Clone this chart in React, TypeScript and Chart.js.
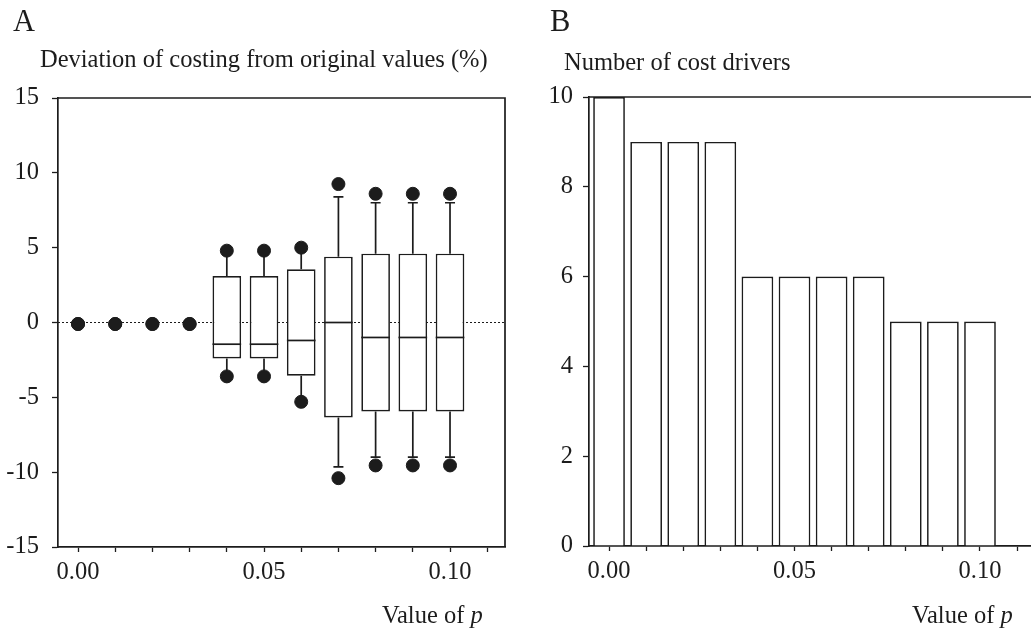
import React, { useEffect, useRef } from 'react';
import { Chart, registerables } from 'chart.js';

Chart.register(...registerables);

// ---------- data ----------
const P_VALUES = [0, 0.01, 0.02, 0.03, 0.04, 0.05, 0.06, 0.07, 0.08, 0.09, 0.1];
const BOX_Q1 = [null, null, null, null, -2.4, -2.4, -3.55, -6.35, -5.95, -5.95, -5.95];
const BOX_MEDIAN = [null, null, null, null, -1.45, -1.45, -1.2, 0, -1.0, -1.0, -1.0];
const BOX_Q3 = [null, null, null, null, 3.1, 3.1, 3.55, 4.4, 4.6, 4.6, 4.6];
const WHISKER_LOW = [null, null, null, null, -3.6, -3.6, -5.3, -9.65, -9.0, -9.0, -9.0];
const WHISKER_HIGH = [null, null, null, null, 4.8, 4.8, 5.0, 8.4, 8.0, 8.0, 8.0];
const POINT_LOW = [-0.1, -0.1, -0.1, -0.1, -3.6, -3.6, -5.3, -10.4, -9.55, -9.55, -9.55];
const POINT_HIGH = [-0.1, -0.1, -0.1, -0.1, 4.8, 4.8, 5.0, 9.25, 8.6, 8.6, 8.6];
const COST_DRIVERS = [10, 9, 9, 9, 6, 6, 6, 6, 5, 5, 5];

const X_TICKS = [0, 0.01, 0.02, 0.03, 0.04, 0.05, 0.06, 0.07, 0.08, 0.09, 0.1, 0.11];
const X_TICK_LABELS = ['0.00', '', '', '', '', '0.05', '', '', '', '', '0.10', ''];
const Y_TICKS_A = [-15, -10, -5, 0, 5, 10, 15];
const Y_TICKS_B = [0, 2, 4, 6, 8, 10];

// ---------- style ----------
const FONT = '"Liberation Serif", "Times New Roman", serif';
const INK = '#1c1c1c';
const LW = 1.7;
const FS = 24.5;

function xTickLabel(value: number) {
  const idx = X_TICKS.findIndex((t) => Math.abs(t - value) < 1e-9);
  return idx >= 0 ? X_TICK_LABELS[idx] : '';
}

function drawValueOfP(ctx: CanvasRenderingContext2D, x: number, y: number) {
  ctx.font = `${FS}px ${FONT}`;
  ctx.fillStyle = INK;
  ctx.textAlign = 'left';
  ctx.textBaseline = 'alphabetic';
  const t = 'Value of ';
  ctx.fillText(t, x, y);
  const w = ctx.measureText(t).width;
  ctx.font = `italic ${FS}px ${FONT}`;
  ctx.fillText('p', x + w, y);
}

function xScale(min: number, max: number, height: number) {
  return {
    type: 'linear',
    min,
    max,
    offset: false,
    afterBuildTicks: (scale: any) => {
      scale.ticks = X_TICKS.map((v) => ({ value: v }));
    },
    afterFit: (scale: any) => {
      scale.height = height;
    },
    border: { display: true, color: INK, width: LW },
    grid: {
      display: true,
      offset: false,
      drawOnChartArea: false,
      drawTicks: true,
      tickLength: 5,
      tickWidth: 1.3,
      tickColor: INK,
    },
    ticks: {
      autoSkip: false,
      maxRotation: 0,
      padding: 6,
      color: INK,
      font: { family: FONT, size: FS },
      callback: (v: number) => xTickLabel(v),
    },
  };
}

function yScale(min: number, max: number, ticks: number[], width: number, padding: number) {
  return {
    type: 'linear',
    min,
    max,
    afterBuildTicks: (scale: any) => {
      scale.ticks = ticks.map((v) => ({ value: v }));
    },
    afterFit: (scale: any) => {
      scale.width = width;
    },
    border: { display: true, color: INK, width: LW },
    grid: {
      display: true,
      drawOnChartArea: false,
      drawTicks: true,
      tickLength: 6,
      tickWidth: 1.3,
      tickColor: INK,
    },
    ticks: {
      autoSkip: false,
      padding,
      color: INK,
      font: { family: FONT, size: FS },
      callback: (v: number) => String(v),
    },
  };
}

const boxPlugin = {
  id: 'boxDetails',
  beforeDatasetsDraw(chart: any) {
    const { ctx, chartArea, scales } = chart;
    const x = scales.x;
    const y = scales.y;
    ctx.save();
    const y0 = y.getPixelForValue(0);
    ctx.strokeStyle = INK;
    ctx.lineWidth = 1;
    ctx.setLineDash([2, 2]);
    ctx.beginPath();
    ctx.moveTo(chartArea.left, y0);
    ctx.lineTo(chartArea.right, y0);
    ctx.stroke();
    ctx.setLineDash([]);
    ctx.lineWidth = LW;
    P_VALUES.forEach((p, i) => {
      if (BOX_Q1[i] == null) return;
      const px = x.getPixelForValue(p);
      const segs: [number, number][] = [
        [BOX_Q3[i] as number, WHISKER_HIGH[i] as number],
        [BOX_Q1[i] as number, WHISKER_LOW[i] as number],
      ];
      segs.forEach(([from, to]) => {
        const a = y.getPixelForValue(from);
        const b = y.getPixelForValue(to);
        ctx.beginPath();
        ctx.moveTo(px, a);
        ctx.lineTo(px, b);
        ctx.moveTo(px - 5, b);
        ctx.lineTo(px + 5, b);
        ctx.stroke();
      });
    });
    ctx.restore();
  },
  afterDatasetsDraw(chart: any) {
    const { ctx, scales } = chart;
    const x = scales.x;
    const y = scales.y;
    const meta = chart.getDatasetMeta(2);
    ctx.save();
    ctx.strokeStyle = INK;
    ctx.lineWidth = LW;
    let k = 0;
    P_VALUES.forEach((p, i) => {
      if (BOX_MEDIAN[i] == null) return;
      const el = meta.data[k++];
      const half = el ? el.width / 2 : 14;
      const px = x.getPixelForValue(p);
      const py = y.getPixelForValue(BOX_MEDIAN[i] as number);
      ctx.beginPath();
      ctx.moveTo(px - half, py);
      ctx.lineTo(px + half, py);
      ctx.stroke();
    });
    ctx.restore();
  },
  afterDraw(chart: any) {
    const { ctx, chartArea } = chart;
    ctx.save();
    ctx.strokeStyle = INK;
    ctx.lineWidth = LW;
    ctx.beginPath();
    ctx.moveTo(chartArea.left, chartArea.top);
    ctx.lineTo(chartArea.right, chartArea.top);
    ctx.lineTo(chartArea.right, chartArea.bottom);
    ctx.stroke();
    ctx.fillStyle = INK;
    ctx.textBaseline = 'alphabetic';
    ctx.textAlign = 'left';
    ctx.font = `30.5px ${FONT}`;
    ctx.fillText('A', 13, 31);
    ctx.font = `${FS}px ${FONT}`;
    ctx.fillText('Deviation of costing from original values (%)', 40, 67);
    drawValueOfP(ctx, 382, 623);
    ctx.restore();
  },
};

const barPlugin = {
  id: 'barDetails',
  afterDraw(chart: any) {
    const { ctx, chartArea } = chart;
    ctx.save();
    ctx.strokeStyle = INK;
    ctx.lineWidth = LW;
    ctx.beginPath();
    ctx.moveTo(chartArea.left, chartArea.top);
    ctx.lineTo(chartArea.right, chartArea.top);
    ctx.stroke();
    ctx.fillStyle = INK;
    ctx.textBaseline = 'alphabetic';
    ctx.textAlign = 'left';
    ctx.font = `30.5px ${FONT}`;
    ctx.fillText('B', 20, 31);
    ctx.font = `${FS}px ${FONT}`;
    ctx.fillText('Number of cost drivers', 34, 70);
    drawValueOfP(ctx, 382, 623);
    ctx.restore();
  },
};

export default function App() {
  const refA = useRef<HTMLCanvasElement>(null);
  const refB = useRef<HTMLCanvasElement>(null);

  useEffect(() => {
    const boxes = P_VALUES.map((p, i) =>
      BOX_Q1[i] == null ? null : { x: p, y: [BOX_Q1[i], BOX_Q3[i]] }
    ).filter((d) => d !== null);

    const chartA = new Chart(refA.current as HTMLCanvasElement, {
      type: 'bar',
      data: {
        datasets: [
          {
            type: 'scatter',
            data: P_VALUES.map((p, i) => ({ x: p, y: POINT_HIGH[i] })),
            pointRadius: 6.5,
            pointBorderWidth: 1,
            pointBackgroundColor: INK,
            pointBorderColor: INK,
            order: 1,
          },
          {
            type: 'scatter',
            data: P_VALUES.map((p, i) => ({ x: p, y: POINT_LOW[i] })),
            pointRadius: 6.5,
            pointBorderWidth: 1,
            pointBackgroundColor: INK,
            pointBorderColor: INK,
            order: 1,
          },
          {
            type: 'bar',
            data: boxes as any,
            backgroundColor: '#ffffff',
            borderColor: INK,
            borderWidth: LW,
            borderSkipped: false,
            categoryPercentage: 1,
            barPercentage: 0.77,
            order: 2,
          },
        ],
      },
      options: {
        animation: false,
        responsive: false,
        layout: { padding: { top: 98, right: 25, bottom: 0, left: 0 } },
        plugins: { legend: { display: false }, tooltip: { enabled: false }, title: { display: false } },
        scales: {
          x: xScale(-0.00538, 0.11478, 85) as any,
          y: yScale(-15, 15, Y_TICKS_A, 58, 13) as any,
        },
      },
      plugins: [boxPlugin],
    });

    const chartB = new Chart(refB.current as HTMLCanvasElement, {
      type: 'bar',
      data: {
        datasets: [
          {
            data: P_VALUES.map((p, i) => ({ x: p, y: COST_DRIVERS[i] })),
            backgroundColor: '#ffffff',
            borderColor: INK,
            borderWidth: LW,
            categoryPercentage: 1,
            barPercentage: 0.855,
          },
        ],
      },
      options: {
        animation: false,
        responsive: false,
        layout: { padding: { top: 97, right: 0, bottom: 0, left: 0 } },
        plugins: { legend: { display: false }, tooltip: { enabled: false }, title: { display: false } },
        scales: {
          x: xScale(-0.0054, 0.11375, 86) as any,
          y: yScale(0, 10, Y_TICKS_B, 59, 10) as any,
        },
      },
      plugins: [barPlugin],
    });

    return () => {
      chartA.destroy();
      chartB.destroy();
    };
  }, []);

  return (
    <div
      style={{
        position: 'absolute',
        left: 0,
        top: 0,
        width: 1031,
        height: 632,
        overflow: 'hidden',
        background: '#ffffff',
      }}
    >
      <canvas ref={refA} width={530} height={632} style={{ position: 'absolute', left: 0, top: 0 }} />
      <canvas ref={refB} width={501} height={632} style={{ position: 'absolute', left: 530, top: 0 }} />
    </div>
  );
}
